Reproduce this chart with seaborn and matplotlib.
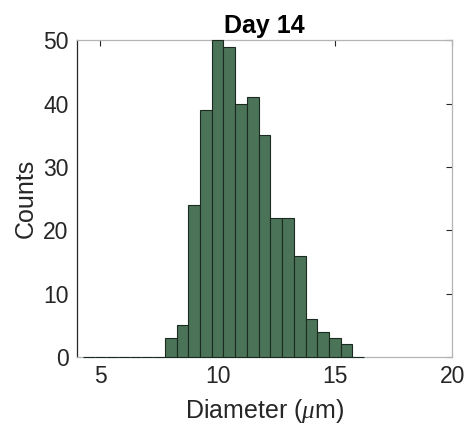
import matplotlib
matplotlib.use("Agg")
import matplotlib.pyplot as plt
import seaborn as sns
import numpy as np
import pandas as pd

sns.set_style("white")
plt.rcParams['font.family'] = ['Liberation Sans', 'DejaVu Sans']
plt.rcParams['mathtext.fontset'] = 'custom'
plt.rcParams['mathtext.it'] = 'Liberation Serif:italic'

# Histogram of cell diameters (bin width 0.5 µm), counts per bin
bin_left = [4.25, 4.75, 5.25, 5.75, 6.25, 6.75, 7.25,
            7.75, 8.25, 8.75, 9.25, 9.75, 10.25, 10.75, 11.25, 11.75,
            12.25, 12.75, 13.25, 13.75, 14.25, 14.75, 15.25, 15.75]
counts = [0, 0, 0, 0, 0, 0, 0,
          3, 5, 24, 39, 50, 49, 40, 41, 35,
          22, 22, 16, 6, 4, 3, 2, 0]
bin_width = 0.5

x_ticks = [5, 10, 15, 20]
y_ticks = [0, 10, 20, 30, 40, 50]

df = pd.DataFrame({"diameter": np.array(bin_left) + bin_width / 2,
                   "count": counts})
edges = list(bin_left) + [bin_left[-1] + bin_width]

fig = plt.figure(figsize=(4.69, 4.37), dpi=100)
ax = fig.add_axes([0.164, 0.183, 0.800, 0.725])

sns.histplot(data=df, x="diameter", weights="count", bins=edges,
             color="#4b7357", alpha=1.0, edgecolor="#1a2a1e",
             linewidth=0.8, ax=ax)

# keep empty bins visible as dark outlines along the baseline
for p in ax.patches:
    p.set_zorder(3)
    p.set_clip_on(False)

ax.set_xlim(4, 20)
ax.set_ylim(0, 50)
ax.set_xticks(x_ticks)
ax.set_yticks(y_ticks)
ax.tick_params(axis="both", which="both", direction="in", length=4,
               width=0.8, color="#262626", labelsize=16.5,
               labelcolor="#262626", top=True, right=True, pad=6)

ax.spines["left"].set_color("#262626")
for side in ["top", "right", "bottom"]:
    ax.spines[side].set_color("#b4b4b4")
for s in ax.spines.values():
    s.set_linewidth(0.9)
    s.set_zorder(1)

ax.set_xlabel(r"Diameter ($\mu$m)", fontsize=18, color="#262626", labelpad=6)
ax.set_ylabel("Counts", fontsize=18, color="#262626", labelpad=4)
ax.set_title("Day 14", fontsize=18, fontweight="bold", color="black", pad=5)

fig.savefig("out.png", dpi=100)
